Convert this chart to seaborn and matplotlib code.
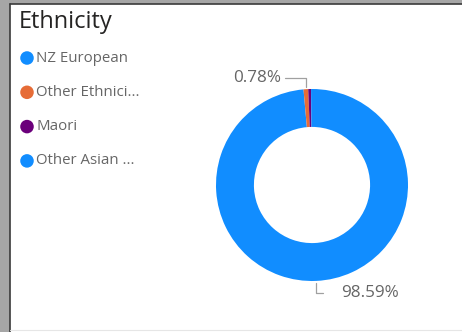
import matplotlib
matplotlib.use("Agg")
import matplotlib.pyplot as plt
from matplotlib.patches import Rectangle
from matplotlib.lines import Line2D
import numpy as np
import seaborn as sns

# Ethnicity breakdown (percent of total)
categories = ["NZ European", "Other Ethnici...", "Maori", "Other Asian ..."]
shares = [98.59, 0.78, 0.47, 0.16]
colors = ["#118DFF", "#E66C37", "#6B007B", "#118DFF"]
shown_labels = {0: "98.59%", 1: "0.78%"}

sns.set_theme(style="white")
plt.rcParams["font.family"] = ["Open Sans", "DejaVu Sans"]

W, H = 462, 332
fig = plt.figure(figsize=(W / 100, H / 100), dpi=100)
fig.patch.set_facecolor("#a6a6a6")


def px(x, y):
    """pixel coords (origin top-left) -> figure fraction"""
    return x / W, 1 - y / H


# white card with dark edge on the left/top
fig.add_artist(Rectangle(px(10, H), (W - 10) / W, (H - 4) / H,
                         transform=fig.transFigure, facecolor="white",
                         edgecolor="none", zorder=0))
fig.add_artist(Line2D([10 / W, 10 / W], [0, 1 - 4 / H], transform=fig.transFigure,
                      color="#3a3a3a", lw=1.2))
fig.add_artist(Line2D([10 / W, 1], [1 - 4 / H, 1 - 4 / H], transform=fig.transFigure,
                      color="#3a3a3a", lw=1.2))
fig.add_artist(Line2D([10 / W, 1], [1 - 330 / H, 1 - 330 / H], transform=fig.transFigure,
                      color="#e6e6e6", lw=0.8))

# title
fig.text(*px(19, 22), "Ethnicity", fontsize=17, color="#252423", va="center", ha="left")

# legend: round markers drawn in a full-figure overlay in pixel units
lax = fig.add_axes([0, 0, 1, 1])
lax.set_xlim(0, W)
lax.set_ylim(H, 0)
lax.axis("off")
lax.patch.set_alpha(0)
rows = [58 + i * 34.3 for i in range(len(categories))]
sns.scatterplot(x=[27] * len(categories), y=rows, hue=categories, palette=colors,
                s=95, edgecolor="none", legend=False, ax=lax)
for cat, ry in zip(categories, rows):
    lax.text(36, ry, cat, fontsize=10.8, color="#666666", va="center", ha="left")
lax.set_xlim(0, W)
lax.set_ylim(H, 0)

# donut
cx, cy0, R = 312, 185, 96
ax = fig.add_axes([(cx - R) / W, (H - cy0 - R) / H, 2 * R / W, 2 * R / H])
ax.pie(shares, colors=colors, startangle=90, counterclock=False, radius=1,
       wedgeprops=dict(width=0.395, edgecolor="none"))
ax.set_xlim(-1, 1)
ax.set_ylim(-1, 1)
ax.axis("off")

# leader lines and value labels
total = sum(shares)
cum = np.cumsum([0] + shares[:-1])
lc = "#a0a0a0"
for i, txt in shown_labels.items():
    mid = (cum[i] + shares[i] / 2) / total * 2 * np.pi
    x0, y0 = np.sin(mid), np.cos(mid)
    if y0 > 0:
        yl = (cy0 - 78) / R
        xe = (285 - cx) / R
        ax.plot([x0, x0, xe], [y0 + 0.02, yl, yl], color=lc, lw=0.9, clip_on=False)
        ax.text((281 - cx) / R, yl, txt, ha="right", va="center",
                fontsize=12.3, color="#666666")
    else:
        yl = -(293 - cy0) / R
        ax.plot([x0, x0, x0 + 7 / R], [y0 - 0.02, yl, yl],
                color=lc, lw=0.9, clip_on=False)
        ax.text(x0 + (341 - 316) / R, yl, txt, ha="left", va="center",
                fontsize=12.3, color="#666666")

fig.savefig("out.png", dpi=100, facecolor=fig.get_facecolor())
